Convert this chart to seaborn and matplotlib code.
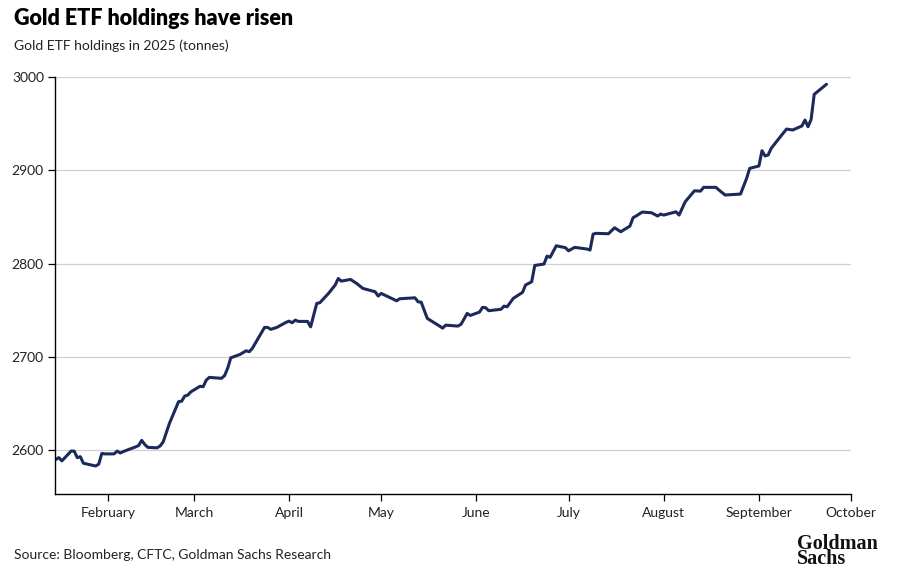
import pandas as pd
import seaborn as sns
import matplotlib.pyplot as plt
import matplotlib.dates as mdates

# Gold ETF holdings in 2025 (tonnes)
dates = [
    "2025-01-15", "2025-01-16", "2025-01-17", "2025-01-20", "2025-01-21", "2025-01-22",
    "2025-01-23", "2025-01-24", "2025-01-28", "2025-01-29", "2025-01-30", "2025-01-31",
    "2025-02-03", "2025-02-04", "2025-02-05", "2025-02-06", "2025-02-10", "2025-02-11",
    "2025-02-12", "2025-02-13", "2025-02-14", "2025-02-17", "2025-02-18", "2025-02-19",
    "2025-02-21", "2025-02-24", "2025-02-25", "2025-02-26", "2025-02-27", "2025-02-28",
    "2025-03-03", "2025-03-04", "2025-03-05", "2025-03-06", "2025-03-10", "2025-03-11",
    "2025-03-12", "2025-03-13", "2025-03-16", "2025-03-18", "2025-03-19", "2025-03-20",
    "2025-03-24", "2025-03-25", "2025-03-26", "2025-03-28", "2025-03-31", "2025-04-01",
    "2025-04-02", "2025-04-03", "2025-04-04", "2025-04-07", "2025-04-08", "2025-04-10",
    "2025-04-11", "2025-04-14", "2025-04-16", "2025-04-17", "2025-04-18", "2025-04-21",
    "2025-04-23", "2025-04-25", "2025-04-29", "2025-04-30", "2025-05-01", "2025-05-06",
    "2025-05-07", "2025-05-12", "2025-05-13", "2025-05-14", "2025-05-16", "2025-05-20",
    "2025-05-21", "2025-05-22", "2025-05-26", "2025-05-27", "2025-05-29", "2025-05-30",
    "2025-06-02", "2025-06-03", "2025-06-04", "2025-06-05", "2025-06-09", "2025-06-10",
    "2025-06-11", "2025-06-13", "2025-06-16", "2025-06-17", "2025-06-19", "2025-06-20",
    "2025-06-23", "2025-06-24", "2025-06-25", "2025-06-27", "2025-06-30", "2025-07-01",
    "2025-07-03", "2025-07-07", "2025-07-08", "2025-07-09", "2025-07-10", "2025-07-14",
    "2025-07-16", "2025-07-18", "2025-07-21", "2025-07-22", "2025-07-23", "2025-07-25",
    "2025-07-28", "2025-07-30", "2025-07-31", "2025-08-01", "2025-08-05", "2025-08-06",
    "2025-08-08", "2025-08-11", "2025-08-13", "2025-08-14", "2025-08-18", "2025-08-19",
    "2025-08-21", "2025-08-26", "2025-08-28", "2025-08-29", "2025-09-01", "2025-09-02",
    "2025-09-03", "2025-09-04", "2025-09-05", "2025-09-08", "2025-09-10", "2025-09-12",
    "2025-09-15", "2025-09-16", "2025-09-17", "2025-09-18", "2025-09-19", "2025-09-23",
]
holdings = [
    2590, 2592, 2588.5, 2599, 2599, 2592,
    2593, 2586, 2583, 2585, 2596.5, 2596,
    2596, 2599, 2597, 2598.5, 2603.5, 2605,
    2610.5, 2606, 2603, 2602.5, 2604.5, 2609,
    2628.5, 2652, 2652.5, 2658, 2659, 2662.5,
    2668.5, 2668, 2675, 2678, 2677, 2680,
    2688, 2699, 2702.6, 2706.5, 2705.5, 2709,
    2731.6, 2731.6, 2729.5, 2731.6, 2737, 2738.3,
    2736.5, 2739.4, 2738, 2738, 2732.2, 2757.3,
    2758, 2768.7, 2777, 2784, 2781.2, 2783,
    2778.7, 2773.4, 2769.8, 2765.2, 2768, 2760.1,
    2762.3, 2763.3, 2759, 2758.7, 2741.2, 2733,
    2730.8, 2734, 2733, 2735, 2746.6, 2744.4,
    2748, 2753, 2752.7, 2749.5, 2751, 2754.4,
    2753.7, 2762.7, 2769.1, 2777, 2780.5, 2798,
    2799.5, 2808, 2806.7, 2819.1, 2817, 2813.7,
    2817.4, 2815.6, 2814.5, 2831.6, 2832.4, 2832,
    2838.4, 2834.1, 2840.2, 2849.1, 2851, 2855.2,
    2854.5, 2851, 2853, 2852, 2855.5, 2852,
    2866.3, 2878, 2877.7, 2881.7, 2881.7, 2878.8,
    2873.5, 2874.5, 2891.4, 2902.1, 2904.6, 2921,
    2915.3, 2916.4, 2923.5, 2936.1, 2944.2, 2943.2,
    2947.5, 2953.9, 2946.7, 2954.6, 2981.4, 2992.2,
]
y_ticks = [2600, 2700, 2800, 2900, 3000]

df = pd.DataFrame({"date": pd.to_datetime(dates), "tonnes": holdings})

sns.set_style("white")
plt.rcParams["font.family"] = ["Lato", "DejaVu Sans"]

fig = plt.figure(figsize=(9, 5.82), dpi=100)
ax = fig.add_axes([0.0611, 0.1512, 0.8845, 0.7165])

sns.lineplot(data=df, x="date", y="tonnes", ax=ax, color="#1b2a5a", linewidth=2.2)

ax.set_xlim(pd.Timestamp("2025-01-14 18:00"), pd.Timestamp("2025-10-01"))
ax.set_ylim(2553, 3000)
ax.set_yticks(y_ticks)
ax.yaxis.grid(True, color="#d0d0d0", linewidth=0.9)
ax.set_axisbelow(True)

ax.xaxis.set_major_locator(mdates.MonthLocator(bymonth=range(2, 11)))
ax.xaxis.set_major_formatter(mdates.DateFormatter("%B"))
ax.tick_params(axis="both", which="major", length=5, width=0.9, color="black",
               labelsize=10, labelcolor="#222222", direction="out",
               bottom=True, left=True, pad=3)
ax.tick_params(axis="x", pad=4)
ax.set_xlabel("")
ax.set_ylabel("")

for side in ["top", "right"]:
    ax.spines[side].set_visible(False)
for side in ["left", "bottom"]:
    ax.spines[side].set_color("black")
    ax.spines[side].set_linewidth(1.0)

fig.text(0.015, 0.968, "Gold ETF holdings have risen", fontsize=15.5,
         fontweight="heavy", va="center", ha="left", color="black")
fig.text(0.015, 0.922, "Gold ETF holdings in 2025 (tonnes)", fontsize=10,
         va="center", ha="left", color="#222222")
fig.text(0.015, 0.046, "Source: Bloomberg, CFTC, Goldman Sachs Research", fontsize=10,
         va="center", ha="left", color="#222222")
fig.text(0.885, 0.052, "Goldman\nSachs", fontsize=14.5, fontweight="bold",
         family=["Liberation Serif", "DejaVu Serif"],
         va="center", ha="left", linespacing=0.7, color="#111111")

fig.savefig("out.png", dpi=100)
